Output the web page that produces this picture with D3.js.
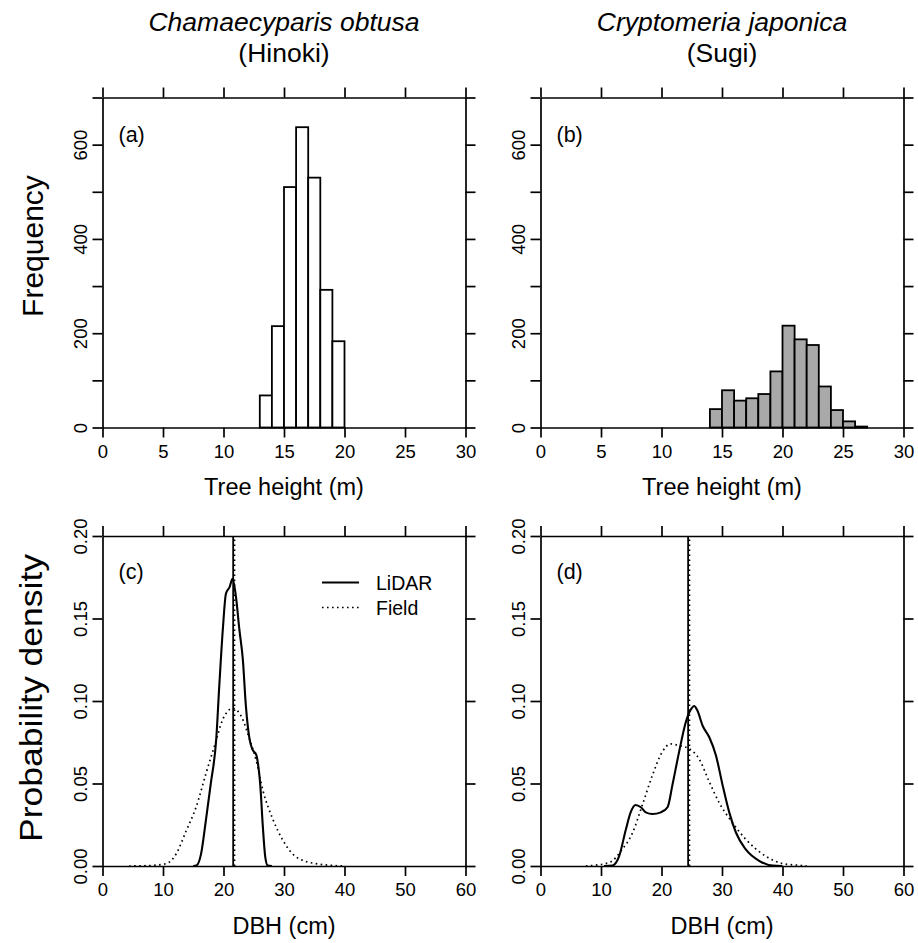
<!DOCTYPE html>
<html>
<head>
<meta charset="utf-8">
<script src="https://cdn.jsdelivr.net/npm/d3@7"></script>
<style>
  html, body { margin: 0; padding: 0; background: #fff; }
  svg { display: block; font-family: "Liberation Sans", Arial, Helvetica, sans-serif; }
</style>
</head>
<body>
<svg id="chart" width="918" height="943"></svg>
<script>
// ---------------- data ----------------
const speciesNames = ["Chamaecyparis obtusa", "Cryptomeria japonica"];
const commonNames = ["(Hinoki)", "(Sugi)"];
const panelLabels = ["(a)", "(b)", "(c)", "(d)"];

// histogram of tree height (1 m bins)
const hinokiBinStart = 13;
const hinokiCounts = [68, 215, 510, 637, 530, 292, 183];
const sugiBinStart = 14;
const sugiCounts = [39, 79, 57, 62, 71, 119, 216, 187, 175, 87, 37, 13, 2];

const heightTicks = [0, 5, 10, 15, 20, 25, 30];
const freqTicks = [0, 100, 200, 300, 400, 500, 600, 700];
const freqLabels = [0, 200, 400, 600];
const dbhTicks = [0, 10, 20, 30, 40, 50, 60];
const densTicks = [0, 0.05, 0.10, 0.15, 0.20];

// DBH density curves [dbh cm, density]
const hinokiLidar = [[15.0,0],[15.6,0.0005],[16.3,0.0075],[17.1,0.028],[17.9,0.050],[18.8,0.077],[19.3,0.109],[19.9,0.144],[20.4,0.165],[21.0,0.169],[21.5,0.174],[22.1,0.162],[22.6,0.144],[23.2,0.125],[23.7,0.097],[24.3,0.077],[24.8,0.0705],[25.4,0.0675],[25.7,0.062],[26.1,0.048],[26.5,0.024],[26.9,0.0055],[27.3,0.0003],[28.0,0]];
const hinokiField = [[4.4,0],[8.0,0.0003],[10.5,0.0014],[12.2,0.0075],[13.8,0.021],[15.5,0.036],[17.1,0.056],[18.5,0.0726],[19.9,0.089],[21.5,0.0955],[22.9,0.091],[24.3,0.077],[25.4,0.064],[26.5,0.046],[28.2,0.028],[29.8,0.0157],[32.0,0.0055],[35.3,0.0014],[39.7,0]];
const hinokiMean = 21.6;

const sugiLidar = [[10.5,0],[11.9,0.0003],[13.0,0.006],[14.1,0.022],[14.9,0.0325],[15.7,0.037],[16.6,0.0356],[17.4,0.0325],[18.5,0.0315],[19.9,0.0325],[21.0,0.0356],[21.8,0.049],[22.9,0.069],[24.0,0.087],[24.8,0.0945],[25.4,0.097],[25.9,0.0945],[26.8,0.085],[27.9,0.078],[29.0,0.067],[30.1,0.049],[31.2,0.0325],[32.3,0.0203],[33.9,0.0102],[36.2,0.003],[38.4,0.0002],[40,0]];
const sugiField = [[7.5,0],[11.3,0.002],[13.5,0.010],[15.2,0.020],[16.8,0.0366],[18.5,0.055],[20.1,0.069],[21.5,0.074],[22.9,0.073],[24.6,0.071],[26.2,0.065],[27.9,0.051],[29.5,0.0386],[31.7,0.0264],[33.9,0.0163],[37.2,0.006],[40.0,0.0015],[42.8,0.0004],[44,0]];
const sugiMean = 24.4;

// ---------------- layout ----------------
const svg = d3.select("#chart");
const colX = [[102.5, 465.5], [540.5, 903.5]];
const rowY = [[97.5, 427.5], [536, 866]];
const tickLen = 10;
const axisW = 1.7;

function styleAxis(g) {
  g.selectAll("path.domain").attr("stroke", "#000").attr("stroke-width", axisW);
  g.selectAll(".tick line").attr("stroke", "#000").attr("stroke-width", axisW);
  g.selectAll("text").attr("fill", "#000").attr("font-family", "Liberation Sans, Arial, sans-serif");
}

function drawFrame(x, y, xTicks, yTicks, yLabelVals, yFmt) {
  const [x0, x1] = x.range();
  const [y0, y1] = y.range(); // y0 bottom, y1 top
  const gb = svg.append("g").attr("transform", `translate(0,${y0})`)
    .call(d3.axisBottom(x).tickValues(xTicks).tickSize(tickLen).tickSizeOuter(0).tickPadding(7).tickFormat(d3.format("d")));
  gb.selectAll("text").attr("font-size", 18.5).attr("dy", "0.71em");
  styleAxis(gb);
  const gt = svg.append("g").attr("transform", `translate(0,${y1})`)
    .call(d3.axisTop(x).tickValues(xTicks).tickSize(tickLen).tickSizeOuter(0).tickFormat(""));
  styleAxis(gt);
  const gl = svg.append("g").attr("transform", `translate(${x0},0)`)
    .call(d3.axisLeft(y).tickValues(yTicks).tickSize(tickLen).tickSizeOuter(0)
      .tickFormat(d => yLabelVals.some(v => Math.abs(v - d) < 1e-9) ? yFmt(d) : ""));
  gl.selectAll("text")
    .attr("x", null).attr("dy", null)
    .attr("text-anchor", "middle")
    .attr("font-size", 18.5)
    .attr("transform", "translate(-16,0) rotate(-90)");
  styleAxis(gl);
  const gr = svg.append("g").attr("transform", `translate(${x1},0)`)
    .call(d3.axisRight(y).tickValues(yTicks).tickSize(tickLen).tickSizeOuter(0).tickFormat(""));
  styleAxis(gr);
}

// ---------------- titles ----------------
[0, 1].forEach(i => {
  const cx = (colX[i][0] + colX[i][1]) / 2;
  svg.append("text").attr("x", cx).attr("y", 31).attr("text-anchor", "middle")
    .attr("font-size", 26.5).attr("font-style", "italic").text(speciesNames[i]);
  svg.append("text").attr("x", cx).attr("y", 62).attr("text-anchor", "middle")
    .attr("font-size", 26.5).text(commonNames[i]);
});

// ---------------- histograms ----------------
const histData = [
  { start: hinokiBinStart, counts: hinokiCounts, fill: "#ffffff" },
  { start: sugiBinStart, counts: sugiCounts, fill: "#a9a9a9" }
];
histData.forEach((h, i) => {
  const x = d3.scaleLinear().domain([0, 30]).range(colX[i]);
  const y = d3.scaleLinear().domain([0, 700]).range([rowY[0][1], rowY[0][0]]);
  const bins = h.counts.map((c, k) => ({ x0: h.start + k, x1: h.start + k + 1, n: c }));
  svg.append("g").selectAll("rect").data(bins).join("rect")
    .attr("x", d => x(d.x0)).attr("width", d => x(d.x1) - x(d.x0))
    .attr("y", d => y(d.n)).attr("height", d => y(0) - y(d.n))
    .attr("fill", h.fill).attr("stroke", "#000").attr("stroke-width", 1.8);
  drawFrame(x, y, heightTicks, freqTicks, freqLabels, d3.format("d"));
  svg.append("text").attr("x", colX[i][0] + 16).attr("y", rowY[0][0] + 44)
    .attr("font-size", 21.5).text(panelLabels[i]);
  svg.append("text").attr("x", (colX[i][0] + colX[i][1]) / 2).attr("y", 495)
    .attr("text-anchor", "middle").attr("font-size", 23.5).text("Tree height (m)");
});

// ---------------- densities ----------------
const densData = [
  { lidar: hinokiLidar, field: hinokiField, mean: hinokiMean },
  { lidar: sugiLidar, field: sugiField, mean: sugiMean }
];
densData.forEach((dd, i) => {
  const x = d3.scaleLinear().domain([0, 60]).range(colX[i]);
  const y = d3.scaleLinear().domain([0, 0.2]).range([rowY[1][1], rowY[1][0]]);
  const line = d3.line().x(d => x(d[0])).y(d => y(d[1])).curve(d3.curveMonotoneX);
  svg.append("path").datum(dd.field).attr("d", line).attr("fill", "none")
    .attr("stroke", "#000").attr("stroke-width", 1.7).attr("stroke-dasharray", "1.6,3.4");
  svg.append("path").datum(dd.lidar).attr("d", line).attr("fill", "none")
    .attr("stroke", "#000").attr("stroke-width", 2.1);
  svg.append("line").attr("x1", x(dd.mean)).attr("x2", x(dd.mean))
    .attr("y1", y(0)).attr("y2", y(0.2)).attr("stroke", "#000").attr("stroke-width", 1.8);
  svg.append("line").attr("x1", x(dd.mean) + 1.5).attr("x2", x(dd.mean) + 1.5)
    .attr("y1", y(0)).attr("y2", y(0.2)).attr("stroke", "#000").attr("stroke-width", 1.4)
    .attr("stroke-dasharray", "1.6,3.4");
  drawFrame(x, y, dbhTicks, densTicks, densTicks, d3.format(".2f"));
  svg.append("text").attr("x", colX[i][0] + 16).attr("y", rowY[1][0] + 43)
    .attr("font-size", 21.5).text(panelLabels[i + 2]);
  svg.append("text").attr("x", (colX[i][0] + colX[i][1]) / 2).attr("y", 934)
    .attr("text-anchor", "middle").attr("font-size", 23.5).text("DBH (cm)");
});

// legend in (c)
const legItems = [{ name: "LiDAR", dash: null, w: 2.1 }, { name: "Field", dash: "1.6,3.4", w: 1.7 }];
legItems.forEach((it, k) => {
  const ly = 582.5 + k * 25;
  svg.append("line").attr("x1", 322).attr("x2", 359).attr("y1", ly).attr("y2", ly)
    .attr("stroke", "#000").attr("stroke-width", it.w).attr("stroke-dasharray", it.dash);
  svg.append("text").attr("x", 376).attr("y", ly + 7).attr("font-size", 19.5).text(it.name);
});

// y axis titles
svg.append("text").attr("transform", "translate(43,246) rotate(-90)")
  .attr("text-anchor", "middle").attr("font-size", 30).text("Frequency");
svg.append("text").attr("transform", "translate(42,698) rotate(-90)")
  .attr("text-anchor", "middle").attr("font-size", 31)
  .attr("textLength", 288).attr("lengthAdjust", "spacingAndGlyphs").text("Probability density");
</script>
</body>
</html>
